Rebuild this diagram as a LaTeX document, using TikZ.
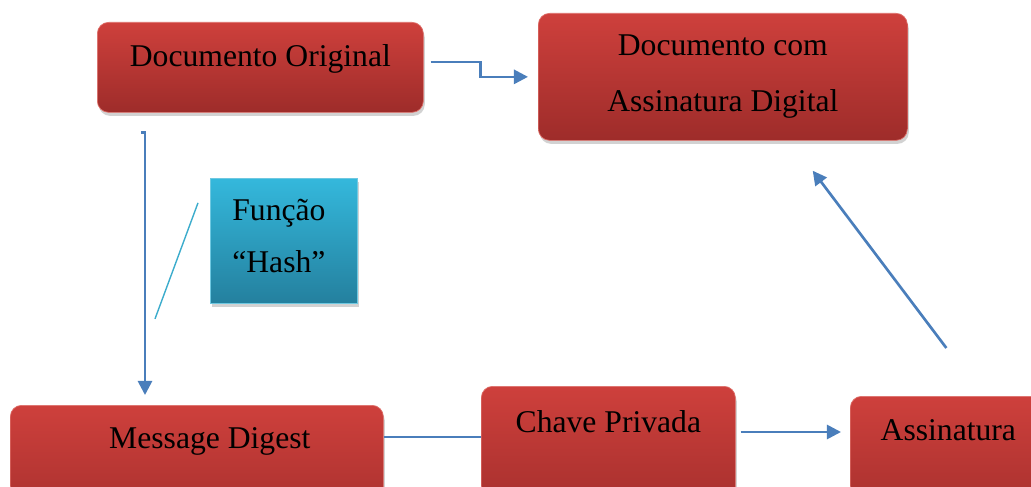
\documentclass[tikz,border=0pt]{standalone}
\usepackage{fontspec}
\setmainfont{Liberation Serif}
\usetikzlibrary{arrows.meta,shadows}
\definecolor{boxtop}{RGB}{206,64,60}
\definecolor{boxbot}{RGB}{158,44,42}
\definecolor{boxedge}{RGB}{222,112,106}
\definecolor{hashtop}{RGB}{52,184,220}
\definecolor{hashbot}{RGB}{36,128,158}
\definecolor{hashedge}{RGB}{110,200,225}
\definecolor{linkblue}{RGB}{74,126,187}
\definecolor{hashline}{RGB}{60,172,204}
\newdimen\pix \pix=0.025cm

\begin{document}
\begin{tikzpicture}[x=0.025cm,y=-0.025cm,
    redbox/.style={rounded corners=8pt, top color=boxtop, bottom color=boxbot, draw=boxedge, line width=0.5pt,
      inner sep=0pt, align=center, anchor=north west, font=\fontsize{22.5}{40}\selectfont,
      drop shadow={shadow xshift=1pt, shadow yshift=-2.5pt, fill=black!35}},
    hashbox/.style={top color=hashtop, bottom color=hashbot, draw=hashedge, line width=0.5pt,
      inner xsep=22\pix, inner ysep=0pt, align=left, anchor=north west, font=\fontsize{22.5}{37}\selectfont,
      drop shadow={shadow xshift=1pt, shadow yshift=-2.5pt, fill=black!35}},
    link/.style={draw=linkblue, line width=1.9pt},
    arr/.style={link, -{Triangle[length=10pt,width=10pt]}}]
    \useasboundingbox (0,0) rectangle (1031,486);
    \clip (0,0) rectangle (1031,486);
    % boxes
    \node[redbox, minimum width=326\pix, text height=44\pix, text depth=46\pix] (orig) at (97,22) {Documento Original};
    \node[redbox, minimum width=369\pix, minimum height=127\pix] (signed) at (538,13) {Documento com\\Assinatura Digital};
    \node[hashbox, text width=103\pix, text height=42\pix, text depth=83\pix] (hash) at (210,178) {Função\\“Hash”};
    \node[redbox, minimum width=373\pix, text height=43\pix, text depth=100\pix] (digest) at (10,405) {\hspace*{26\pix}Message Digest};
    \node[redbox, minimum width=254\pix, text height=46\pix, text depth=100\pix] (key) at (481,386) {Chave Privada};
    \node[redbox, minimum width=196\pix, text height=44\pix, text depth=100\pix] (sig) at (850,396) {Assinatura};
    % connectors
    \draw[arr] ([shift={(7,40)}]orig.north east) -- ++(50,0) |- ([shift={(-10,0)}]signed.west);
    \draw[arr] ([shift={(44,20)}]orig.south west) -- ++(4,0) -- ([shift={(135,-10)}]digest.north west);
    \draw[hashline, line width=1pt] ([shift={(-12,-38)}]hash.west) -- ([shift={(-55,78)}]hash.west);
    \draw[link] ([shift={(0,32)}]digest.north east) -- ([shift={(0,51)}]key.north west);
    \draw[arr] ([shift={(5,46)}]key.north east) -- ([shift={(-9,36)}]sig.north west);
    \draw[arr] ([shift={(-2,-48)}]sig.north) -- ([shift={(-95,30)}]signed.south east);
  \end{tikzpicture}
\end{document}
